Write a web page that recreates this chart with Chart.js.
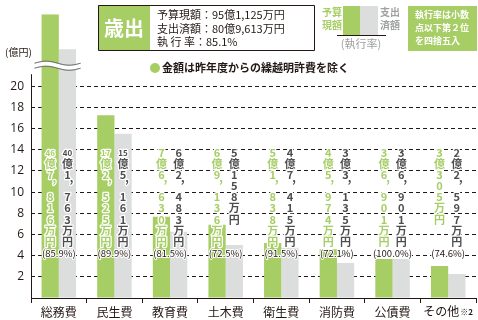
<!DOCTYPE html>
<html>
<head>
<meta charset="utf-8">
<script src="https://cdn.jsdelivr.net/npm/chart.js@4"></script>
<style>
  body { margin: 0; background: #fff; }
</style>
</head>
<body>
<canvas id="myChart" width="478" height="320"></canvas>
<script>
'use strict';

// 単位: 億円
const categories = ['総務費', '民生費', '教育費', '土木費', '衛生費', '消防費', '公債費', 'その他'];
const budget = [46.7816, 17.2525, 7.6630, 6.9136, 5.1838, 4.5974, 3.6901, 3.0305];
const spent = [40.1763, 15.5161, 6.2483, 5.0158, 4.7415, 3.3135, 3.6901, 2.2597];
const rates = ['85.9', '89.9', '81.5', '72.5', '91.5', '72.1', '100.0', '74.6'];
const yTicks = [2, 4, 6, 8, 10, 12, 14, 16, 18, 20];

const GREEN = '#a6ce65';
const GRAY = '#dcdddd';
const INK = '#231815';
const DARK = '#4f4d4d';
const LIGHT = '#9fa0a0';
const FONT = '"Noto Sans CJK JP", sans-serif';

// axis is broken above 20, the part above is squeezed
const BREAK = 20;
const shown = (v) => v <= BREAK ? v : BREAK + (v - 33.2) / 2;

function yen(v) {
  const oku = Math.floor(v + 1e-9);
  const man = Math.round((v - oku) * 10000);
  return oku + '億' + man.toLocaleString('en-US') + '万円';
}

// vertical label, one char per row, number before 億 kept in one row
function vtext(ctx, str, x, y0, fill) {
  const m = str.match(/^(\d+)(億)(.*)$/);
  const tokens = [m[1], m[2]].concat(m[3].split(''));
  let y = y0, prev = y0;
  ctx.textAlign = 'center';
  ctx.textBaseline = 'middle';
  ctx.lineJoin = 'round';
  tokens.forEach((t) => {
    let tx = x, ty = y;
    if (t === ',') { tx = x + 4; ty = prev + 3; }
    ctx.font = (t.length > 1 ? 'bold 8px ' : 'bold 11px ') + FONT;
    ctx.strokeStyle = '#fff';
    ctx.lineWidth = 2.5;
    ctx.strokeText(t, tx, ty);
    ctx.fillStyle = fill;
    ctx.fillText(t, tx, ty);
    prev = y;
    y += 11.1;
  });
}

function txt(ctx, s, x, y, font, color, align) {
  ctx.font = font;
  ctx.fillStyle = color;
  ctx.textAlign = align || 'left';
  ctx.textBaseline = 'middle';
  ctx.fillText(s, x, y);
}

const decor = {
  id: 'decor',
  afterDraw(chart) {
    const ctx = chart.ctx;
    const xs = chart.scales.x;
    const ys = chart.scales.y;
    const area = chart.chartArea;
    ctx.save();

    // y axis line, starts just above 20
    ctx.strokeStyle = INK;
    ctx.lineWidth = 1;
    ctx.beginPath();
    ctx.moveTo(area.left + 0.5, ys.getPixelForValue(20) - 12);
    ctx.lineTo(area.left + 0.5, area.bottom);
    ctx.stroke();

    // break marks across the first category
    const g = chart.getDatasetMeta(0).data[0];
    const x0 = g.x - g.width / 2 - 7, x1 = x0 + 46;
    const yb = ys.getPixelForValue(20) - 23;
    const wave = (off) => {
      for (let x = x0; x <= x1; x += 1) {
        const y = yb + off - 2 * Math.sin((x - x0) / 46 * Math.PI * 2);
        if (x === x0) ctx.moveTo(x, y); else ctx.lineTo(x, y);
      }
    };
    ctx.beginPath();
    wave(0);
    for (let x = x1; x >= x0; x -= 1) {
      ctx.lineTo(x, yb + 5 - 2 * Math.sin((x - x0) / 46 * Math.PI * 2));
    }
    ctx.closePath();
    ctx.fillStyle = '#fff';
    ctx.fill();
    ctx.strokeStyle = DARK;
    ctx.beginPath(); wave(0); ctx.stroke();
    ctx.beginPath(); wave(5); ctx.stroke();

    // amounts inside bars and rates
    const top = ys.getPixelForValue(14) + 3;
    const rateY = ys.getPixelForValue(4) - 2;
    categories.forEach((c, i) => {
      const gb = chart.getDatasetMeta(0).data[i];
      const sb = chart.getDatasetMeta(1).data[i];
      vtext(ctx, yen(budget[i]), gb.x, top, GREEN);
      vtext(ctx, yen(spent[i]), sb.x, top, DARK);
      ctx.font = '9.5px ' + FONT;
      ctx.strokeStyle = '#fff';
      ctx.lineWidth = 2;
      ctx.textAlign = 'center';
      ctx.strokeText('(' + rates[i] + '%)', (gb.x + sb.x) / 2, rateY);
      txt(ctx, '(' + rates[i] + '%)', (gb.x + sb.x) / 2, rateY, '9.5px ' + FONT, INK, 'center');
    });

    // last category label with note mark
    const lx = xs.getPixelForValue(7) - 7;
    txt(ctx, categories[7], lx, 311, '12px ' + FONT, INK, 'center');
    ctx.font = '12px ' + FONT;
    const w = ctx.measureText(categories[7]).width;
    txt(ctx, '※2', lx + w / 2 + 1, 312, 'bold 8px ' + FONT, INK, 'left');

    // unit
    txt(ctx, '(億円)', 5, 52, '10px ' + FONT, INK);

    // header box
    ctx.fillStyle = GREEN;
    ctx.fillRect(98, 5, 52, 45);
    ctx.strokeStyle = INK;
    ctx.lineWidth = 1;
    ctx.strokeRect(98.5, 5.5, 216, 45);
    txt(ctx, '歳出', 124, 28, 'bold 20px ' + FONT, '#fff', 'center');
    txt(ctx, '予算現額：95億1,125万円', 157, 15, '11px ' + FONT, INK);
    txt(ctx, '支出済額：80億9,613万円', 157, 29, '11px ' + FONT, INK);
    txt(ctx, '執 行 率：85.1%', 157, 42, '11px ' + FONT, INK);

    // note line
    ctx.fillStyle = GREEN;
    ctx.beginPath();
    ctx.arc(155, 68, 5, 0, Math.PI * 2);
    ctx.fill();
    txt(ctx, '金額は昨年度からの繰越明許費を除く', 162, 68, 'bold 11px ' + FONT, INK);

    // legend
    txt(ctx, '予算', 332, 12, 'bold 10px ' + FONT, GREEN, 'center');
    txt(ctx, '現額', 332, 25, 'bold 10px ' + FONT, GREEN, 'center');
    ctx.fillStyle = GREEN;
    ctx.fillRect(343, 6, 17, 29);
    ctx.fillStyle = GRAY;
    ctx.fillRect(360, 6, 18, 29);
    txt(ctx, '支出', 390, 12, 'bold 10px ' + FONT, LIGHT, 'center');
    txt(ctx, '済額', 390, 25, 'bold 10px ' + FONT, LIGHT, 'center');
    ctx.strokeStyle = INK;
    ctx.beginPath();
    ctx.moveTo(337, 35.5);
    ctx.lineTo(386, 35.5);
    ctx.stroke();
    txt(ctx, '(執行率)', 361, 44, '11px ' + FONT, LIGHT, 'center');

    // rounding note
    ctx.fillStyle = GREEN;
    ctx.fillRect(408, 6, 69, 45);
    txt(ctx, '執行率は小数', 415, 15, 'bold 9px ' + FONT, '#fff');
    txt(ctx, '点以下第２位', 415, 28, 'bold 9px ' + FONT, '#fff');
    txt(ctx, 'を四捨五入', 415, 41, 'bold 9px ' + FONT, '#fff');

    ctx.restore();
  },
};

new Chart(document.querySelector('#myChart'), {
  type: 'bar',
  data: {
    labels: categories,
    datasets: [
      {label: '予算現額', data: budget.map(shown), backgroundColor: GREEN},
      {label: '支出済額', data: spent.map(shown), backgroundColor: GRAY},
    ],
  },
  options: {
    responsive: false,
    animation: false,
    layout: {padding: {top: 2, right: 2, left: 0, bottom: 0}},
    plugins: {legend: {display: false}, tooltip: {enabled: false}},
    datasets: {bar: {barPercentage: 1, categoryPercentage: 0.62}},
    scales: {
      x: {
        grid: {offset: true, drawOnChartArea: false, tickLength: 5, color: INK},
        border: {color: INK, width: 1},
        ticks: {
          font: {size: 12, family: FONT},
          color: INK,
          padding: 2,
          autoSkip: false,
          maxRotation: 0,
          callback: (v, i) => i === 7 ? '' : categories[i],
        },
        afterFit: (s) => { s.height = 22; },
      },
      y: {
        min: 0,
        max: 26.8,
        z: 1,
        grid: {
          drawTicks: false,
          color: (c) => (c.tick && yTicks.includes(c.tick.value)) ? INK : 'transparent',
        },
        border: {display: false, dash: [4, 3]},
        ticks: {
          stepSize: 2,
          padding: 7,
          font: {size: 12, family: '"Open Sans", sans-serif'},
          color: INK,
          callback: (v) => yTicks.includes(v) ? v : '',
        },
        afterFit: (s) => { s.width = 31; },
      },
    },
  },
  plugins: [decor],
});
</script>
</body>
</html>
